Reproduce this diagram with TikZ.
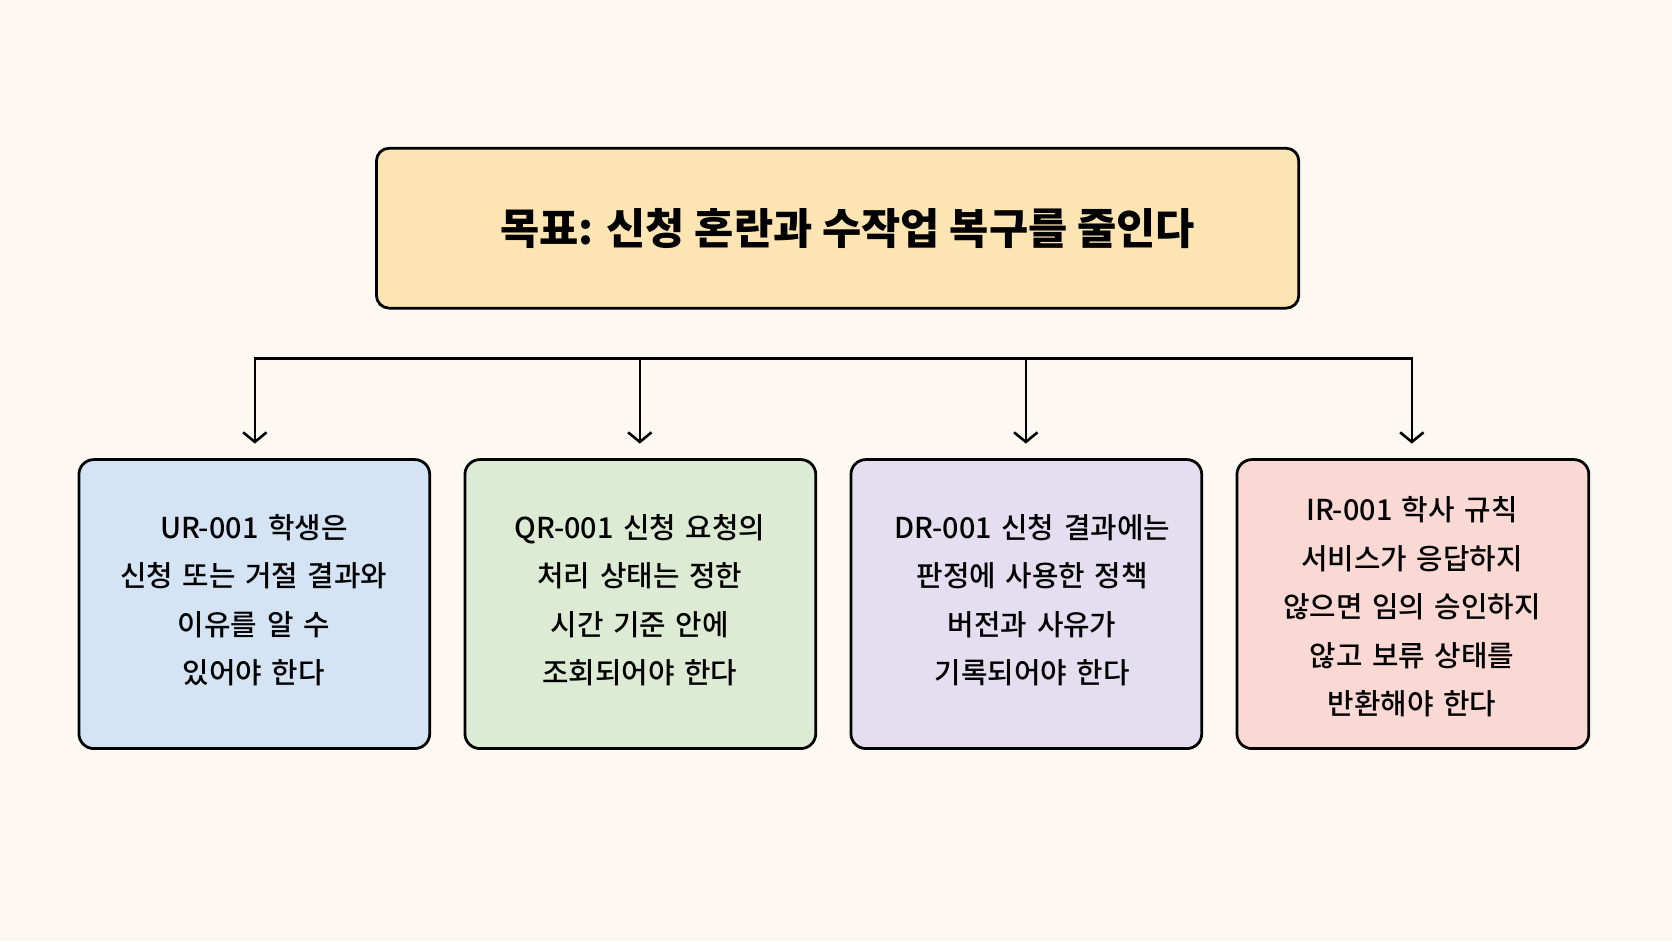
\documentclass[tikz,border=0pt]{standalone}
\usepackage{fontspec}
\newfontfamily\cjk{Noto Sans CJK KR}
\newfontfamily\cjkmed{Noto Sans CJK KR Medium}
\usetikzlibrary{arrows.meta}
\definecolor{bgcol}{HTML}{FDF9F2}
\definecolor{goalcol}{HTML}{FCE5B3}
\definecolor{urcol}{HTML}{D4E4F4}
\definecolor{qrcol}{HTML}{DEEBD4}
\definecolor{drcol}{HTML}{E4DEF0}
\definecolor{ircol}{HTML}{FAD9D4}
\begin{document}
\begin{tikzpicture}[x=1pt,y=-1pt,
  goal/.style={rounded corners=12pt, line width=2.6pt, draw, fill=goalcol},
  req/.style={rounded corners=14pt, line width=2.6pt, draw},
  reqtext/.style={align=center, font=\cjkmed\fontsize{27}{45.5}\selectfont, text width=320pt},
  link/.style={line width=2.4pt, -{Straight Barb[length=9pt,width=22pt,line width=2.4pt]}}]
  \fill[bgcol] (0,0) rectangle (1568,882.5);
  \useasboundingbox (0,0) rectangle (1568,882.5);
  \draw[goal] (353,139) rectangle (1218,289);
  \node[font=\cjk\bfseries\fontsize{40}{48}\selectfont] (goal) at (795,214) {목표: 신청 혼란과 수작업 복구를 줄인다};
  \draw[req, fill=urcol] (74,431) rectangle (403,702);
  \draw[req, fill=qrcol] (436,431) rectangle (765,702);
  \draw[req, fill=drcol] (798,431) rectangle (1127,702);
  \draw[req, fill=ircol] (1160,431) rectangle (1490,702);
  \node[reqtext] (ur) at (238,563) {UR-001 학생은\\신청 또는 거절 결과와\\이유를 알 수\\있어야 한다};
  \node[reqtext] (qr) at (600,563) {QR-001 신청 요청의\\처리 상태는 정한\\시간 기준 안에\\조회되어야 한다};
  \node[reqtext] (dr) at (968,563) {DR-001 신청 결과에는\\판정에 사용한 정책\\버전과 사유가\\기록되어야 한다};
  \node[reqtext] (ir) at (1324,569) {IR-001 학사 규칙\\서비스가 응답하지\\않으면 임의 승인하지\\않고 보류 상태를\\반환해야 한다};
  \coordinate (top1) at (239,336);
  \coordinate (top4) at (1324,336);
  \draw[line width=2.4pt] (top1) -- (top4);
  \foreach \x in {239,600,962,1324}
    \draw[link] (\x,335) -- (\x,416);
\end{tikzpicture}
\end{document}
